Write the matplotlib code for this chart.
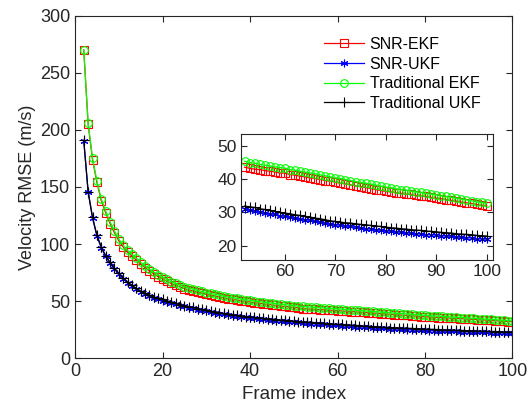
import numpy as np
import matplotlib
matplotlib.use('Agg')
from matplotlib import pyplot as plt

plt.rcParams['font.family'] = ['Liberation Sans', 'DejaVu Sans']

# frames
frames = list(range(2, 101))

snr_ekf = [270, 205, 174, 154, 138, 127.5, 118, 110, 103, 97.5,
           93, 89.5, 86, 82.5, 79.5, 76.5, 74, 71.5, 69.5, 67.5,
           65.5, 64, 62.5, 61, 60, 59, 58, 57, 56.1, 55.3,
           54.5, 53.7, 53, 52.3, 51.6, 51, 50.4, 49.8, 49.3, 48.7,
           48.2, 47.7, 47.2, 46.7, 46.3, 45.8, 45.4, 45, 44.6, 44.2,
           43.6, 43.3, 43.0, 42.9, 42.6, 42.4, 42.2, 41.9, 41.8, 41.4,
           41.2, 40.9, 40.7, 40.4, 40.2, 39.9, 39.6, 39.4, 39.1, 38.8,
           38.6, 38.3, 38.0, 37.8, 37.5, 37.2, 36.9, 36.6, 36.3, 36.2,
           35.9, 35.7, 35.5, 35.4, 35.1, 34.9, 34.8, 34.5, 34.3, 34.1,
           33.8, 33.6, 33.4, 33.1, 32.9, 32.7, 32.4, 32.2, 32.0]

trad_ekf = [270, 206, 175, 155.5, 139.5, 129, 119.5, 111.5, 104.5, 99,
            94.5, 91, 87.5, 84, 81, 78, 75.5, 73, 71, 69,
            67, 65.5, 64, 62.5, 61.5, 60.5, 59.5, 58.5, 57.6, 56.8,
            56, 55.2, 54.5, 53.8, 53.1, 52.5, 51.9, 51.3, 50.8, 50.2,
            49.7, 49.2, 48.7, 48.2, 47.8, 47.3, 46.9, 46.5, 46.1, 45.7,
            45.4, 45.0, 44.8, 44.5, 44.2, 44.0, 43.7, 43.5, 43.3, 42.9,
            42.7, 42.4, 42.1, 41.9, 41.6, 41.3, 41.0, 40.7, 40.4, 40.2,
            39.9, 39.6, 39.3, 39.0, 38.8, 38.5, 38.2, 37.9, 37.6, 37.4,
            37.1, 36.9, 36.7, 36.4, 36.2, 36.0, 35.7, 35.5, 35.3, 35.0,
            34.8, 34.5, 34.3, 34.0, 33.8, 33.5, 33.2, 33.0, 32.7]

trad_ukf = [191, 146, 123.5, 108, 97.5, 90, 84, 79, 74.5, 70.5,
            67, 64, 61.3, 59, 57, 55.3, 53.8, 52.5, 51.5, 50.3,
            49.1, 48.1, 47.1, 46.2, 45.3, 44.5, 43.6, 42.8, 42.0, 41.3,
            40.6, 39.9, 39.3, 38.7, 38.1, 37.6, 37.1, 36.6, 36.2, 35.8,
            35.4, 35.0, 34.6, 34.2, 33.9, 33.5, 33.2, 32.9, 32.5, 32.2,
            31.9, 31.7, 31.5, 31.1, 30.9, 30.6, 30.3, 30.0, 29.8, 29.6,
            29.3, 29.1, 28.8, 28.6, 28.3, 28.1, 27.8, 27.5, 27.3, 27.1,
            26.9, 26.8, 26.6, 26.4, 26.3, 26.1, 25.9, 25.8, 25.6, 25.4,
            25.3, 25.1, 25.0, 24.8, 24.7, 24.6, 24.4, 24.3, 24.2, 24.0,
            23.9, 23.8, 23.6, 23.5, 23.4, 23.3, 23.1, 23.0, 22.9]

snr_ukf = [190.5, 145.5, 123, 107, 96.8, 89.2, 83.2, 78.1, 73.8, 69.6,
           66.3, 63.1, 60.6, 58.1, 56.3, 54.4, 53.0, 51.6, 50.6, 49.4,
           48.2, 47.3, 46.2, 45.4, 44.4, 43.7, 42.7, 42.0, 41.1, 40.5,
           39.7, 39.1, 38.4, 37.9, 37.2, 36.8, 36.2, 35.8, 35.3, 35.0,
           34.5, 34.2, 33.7, 33.4, 33.0, 32.7, 32.3, 32.1, 31.6, 31.4,
           30.9, 30.8, 30.4, 30.2, 29.9, 29.6, 29.4, 29.0, 28.8, 28.6,
           28.3, 28.1, 27.8, 27.6, 27.3, 27.1, 26.8, 26.6, 26.3, 26.2,
           25.9, 25.8, 25.5, 25.4, 25.1, 25.0, 24.8, 24.6, 24.5, 24.3,
           24.2, 24.0, 23.9, 23.7, 23.6, 23.5, 23.3, 23.3, 23.2, 23.0,
           22.9, 22.8, 22.6, 22.5, 22.4, 22.3, 22.1, 22.0, 22.0]

labels = ['SNR-EKF', 'SNR-UKF', 'Traditional EKF', 'Traditional UKF']
series = [snr_ekf, snr_ukf, trad_ekf, trad_ukf]
colors = ['#ff0000', '#0000ff', '#00ff00', '#000000']
markers = ['s', (6, 2, 0), 'o', '+']
msizes = [5.5, 5.5, 5.5, 6.5]

axcol = '#262626'

fig = plt.figure(figsize=(5.29, 4.05), dpi=100)
ax = fig.add_axes([0.1418, 0.1153, 0.827, 0.846])

for y, lab, c, m, ms in zip(series, labels, colors, markers, msizes):
    ax.plot(frames, y, color=c, lw=0.9, marker=m, ms=ms, mfc='none',
            mec=c, mew=0.8, label=lab)

ax.set_xlim(0, 100)
ax.set_ylim(0, 300)
ax.set_xticks([0, 20, 40, 60, 80, 100])
ax.set_yticks([0, 50, 100, 150, 200, 250, 300])
ax.tick_params(direction='in', top=True, right=True, labelsize=13,
               length=4, colors=axcol, width=0.8)
for s in ax.spines.values():
    s.set_color(axcol)
    s.set_linewidth(0.8)
ax.set_xlabel('Frame index', fontsize=13.5, color=axcol, labelpad=4)
ax.set_ylabel('Velocity RMSE (m/s)', fontsize=13, color=axcol, labelpad=3)

leg = ax.legend(loc='upper left', bbox_to_anchor=(324 / 529, 1 - 37 / 405),
                bbox_transform=fig.transFigure, frameon=False, fontsize=11.5,
                handlelength=2.5, handletextpad=0.36, labelspacing=0.29,
                borderaxespad=0, borderpad=0)

# inset zoom
ins = fig.add_axes([241 / 529, 1 - 260 / 405, (492.7 - 241) / 529, (260 - 134.3) / 405])
for y, lab, c, m, ms in zip(series, labels, colors, markers, msizes):
    ins.plot(frames[50:], y[50:], color=c, lw=0.9, marker=m, ms=ms, mfc='none',
             mec=c, mew=0.8)
ins.set_xlim(51.3, 101.2)
ins.set_ylim(15.7, 53.5)
ins.set_xticks([60, 70, 80, 90, 100])
ins.set_yticks([20, 30, 40, 50])
ins.tick_params(direction='in', top=True, right=True, labelsize=12.5,
                length=4, colors=axcol, width=0.8, pad=3)
for s in ins.spines.values():
    s.set_color(axcol)
    s.set_linewidth(0.8)

fig.savefig('out.png', dpi=100)
